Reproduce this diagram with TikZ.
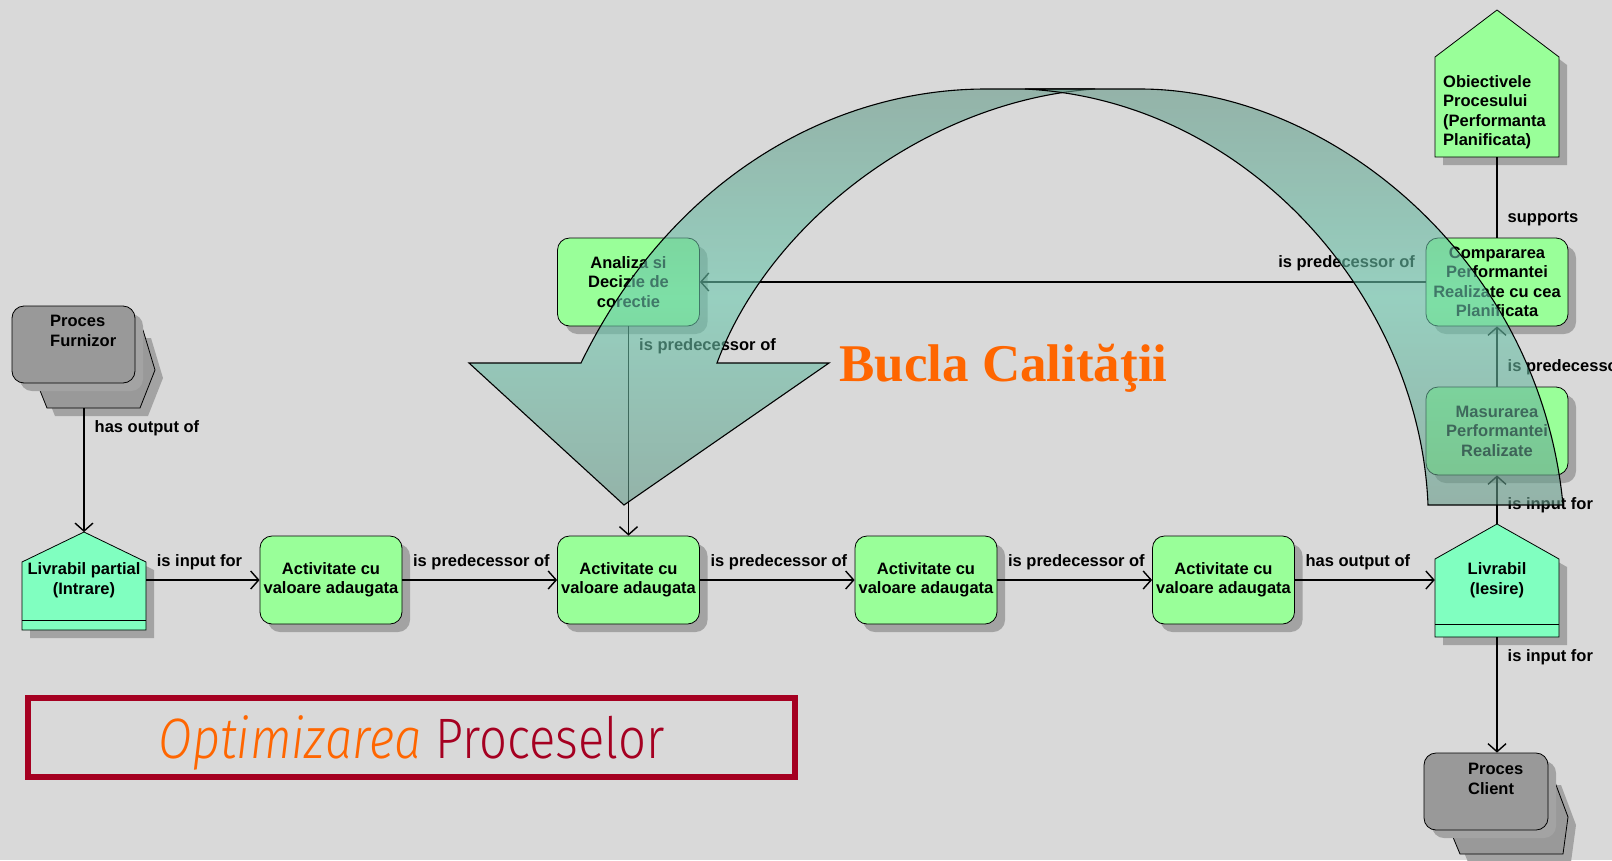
\documentclass[tikz,border=0pt]{standalone}
\usepackage{fontspec}
\setmainfont{Liberation Sans}
\newfontfamily\buclafont{Liberation Serif}
\newfontfamily\optfont{Fira Sans Light}[FakeStretch=0.86]
\usetikzlibrary{arrows.meta,shadows}

\definecolor{bgc}{HTML}{D9D9D9}
\definecolor{actc}{HTML}{99FF99}
\definecolor{livc}{HTML}{80FFC0}
\definecolor{procc}{HTML}{999999}
\definecolor{shadc}{HTML}{A3A3A3}
\definecolor{bandd}{RGB}{102,154,137}
\definecolor{bandl}{RGB}{107,202,175}
\definecolor{orangec}{HTML}{FF6600}
\definecolor{redc}{HTML}{A50021}

\newcommand{\boxfont}{\bfseries\fontsize{16.5}{19.5}\selectfont}

\tikzset{
  shad/.style={drop shadow={shadow xshift=8pt, shadow yshift=-8pt, fill=shadc, opacity=1}},
  act/.style={draw, line width=0.8pt, fill=actc, rounded corners=12pt, minimum width=142pt, minimum height=88pt, align=center, font=\boxfont, inner sep=1pt, shad},
  house/.style={draw, line width=0.8pt, fill=livc, shad},
  procfront/.style={draw, line width=0.8pt, fill=procc, rounded corners=12pt, minimum width=123pt, minimum height=77pt, shad},
  procback/.style={draw, line width=0.8pt, fill=procc, shad},
  txt/.style={align=center, font=\boxfont, inner sep=0pt},
  conn/.style={line width=1.4pt, -{Straight Barb[length=8pt,width=18pt]}},
  lbl/.style={font=\boxfont, inner sep=0pt, pos=0},
  lblr/.style={lbl, anchor=base west, xshift=10pt, yshift=14pt},
  lbll/.style={lbl, anchor=base east, xshift=-10pt, yshift=15pt},
  lbld/.style={lbl, anchor=base west, xshift=10pt, yshift=-24pt},
  lblu/.style={lbl, anchor=base west, xshift=10pt, yshift=15pt},
  band/.style={draw, line width=1.1pt, top color=bandd, bottom color=bandd, middle color=bandl, fill opacity=0.6}
}

\begin{document}
\begin{tikzpicture}[x=1pt, y=-1pt, node distance=297.5pt]
    \fill[bgc] (0,0) rectangle (1612,860);
    \useasboundingbox (0,0) rectangle (1612,860);

    % proces furnizor
    \path[procback] (37,330) -- (143,330) -- (155,370) -- (140,408) -- (47,408) -- (37,383) -- cycle;
    \node[procfront] (furn) at (73.5,344.5) {};
    \node[txt, align=left, anchor=north west] (furn-t) at (50,315) {Proces\\Furnizor};
    \coordinate (furn-out) at (84,408);

    % livrabil partial
    \path[house] (22,630) -- (22,562) -- (84,532) coordinate (livin-top) -- (146,562) -- (146,630) -- cycle;
    \draw[line width=0.8pt] (22,620) -- (146,620);
    \node[txt, minimum width=124pt] (livin) at (84,580) {Livrabil partial\\(Intrare)};

    % activitati
    \node[act] (act1) at (331,580) {Activitate cu\\valoare adaugata};
    \node[act, right of=act1] (act2) {Activitate cu\\valoare adaugata};
    \node[act, right of=act2] (act3) {Activitate cu\\valoare adaugata};
    \node[act, right of=act3] (act4) {Activitate cu\\valoare adaugata};
    \node[act, above of=act2, node distance=298pt] (ana) {Analiza si\\Decizie de\\corectie};

    % obiective
    \path[house, fill=actc] (1435,157) -- (1435,57) -- (1497,10) -- (1559,57) -- (1559,157) -- cycle;
    \node[txt, align=left, anchor=north west] (obj) at (1443,75) {Obiectivele\\Procesului\\(Performanta\\Planificata)};
    \coordinate (obj-bot) at (1497,157);

    \node[act] (comp) at (1497,282) {Compararea\\Performantei\\Realizate cu cea\\Planificata};
    \node[act] (mas) at (1497,431) {Masurarea\\Performantei\\Realizate};

    % livrabil iesire
    \path[house] (1435,637) -- (1435,559) -- (1497,524) coordinate (livout-top) -- (1559,559) -- (1559,637) -- cycle;
    \draw[line width=0.8pt] (1435,624) -- (1559,624);
    \node[txt, minimum width=124pt] (livout) at (1497,580) {Livrabil\\(Iesire)};
    \coordinate (livout-bot) at (1497,637);

    % proces client
    \path[procback] (1449,777) -- (1553,777) -- (1568,817) -- (1563,854) -- (1460,854) -- (1450,830) -- cycle;
    \node[procfront, minimum width=124pt] (client) at (1486,791.5) {};
    \node[txt, align=left, anchor=north west] (client-t) at (1468,763) {Proces\\Client};

    % legaturi
    \draw[conn] (furn-out) -- node[lbld] {has output of} (livin-top);
    \draw[conn] (livin) -- node[lblr] {is input for} (act1);
    \draw[conn] (act1) -- node[lblr] {is predecessor of} (act2);
    \draw[conn] (act2) -- node[lblr] {is predecessor of} (act3);
    \draw[conn] (act3) -- node[lblr] {is predecessor of} (act4);
    \draw[conn] (act4) -- node[lblr] {has output of} (livout);
    \draw[conn] (ana) -- node[lbld] {is predecessor of} (act2);
    \draw[conn] (comp) -- node[lbll] {is predecessor of} (ana);
    \draw[conn] (mas) -- node[lblu] {is predecessor of} (comp);
    \draw[conn] (livout-top) -- node[lblu] {is input for} (mas);
    \draw[line width=1.4pt] (comp) -- node[lblu] {supports} (obj-bot);
    \draw[conn] (livout-bot) -- node[lbld] {is input for} (livout-bot |- client.north);

    % optimizarea
    \node[draw=redc, line width=6pt, minimum width=767pt, minimum height=79pt, text depth=0pt, inner sep=0pt] (optim) at (411.5,737)
        {\optfont\fontsize{57}{57}\selectfont\textcolor{orangec}{\itshape Optimizarea} \textcolor{redc}{Proceselor}};

    % bucla calitatii
    \node[anchor=base west, inner sep=0pt, text=orangec, font=\buclafont\bfseries\fontsize{53}{53}\selectfont] (bucla) at (839,381) {Bucla Calităţii};

    \path[band] (581,363) -- (469,363) -- (624,505) -- (829,363) -- (717,363)
        .. controls (770,220) and (930,100) .. (1095,89) -- (986,89)
        .. controls (830,89) and (670,180) .. (581,363) -- cycle;
    \path[band] (1025,89) -- (1140,89) .. controls (1330,89) and (1540,260) .. (1563,505)
        -- (1428,505) .. controls (1420,300) and (1250,100) .. (1025,89) -- cycle;
\end{tikzpicture}
\end{document}
